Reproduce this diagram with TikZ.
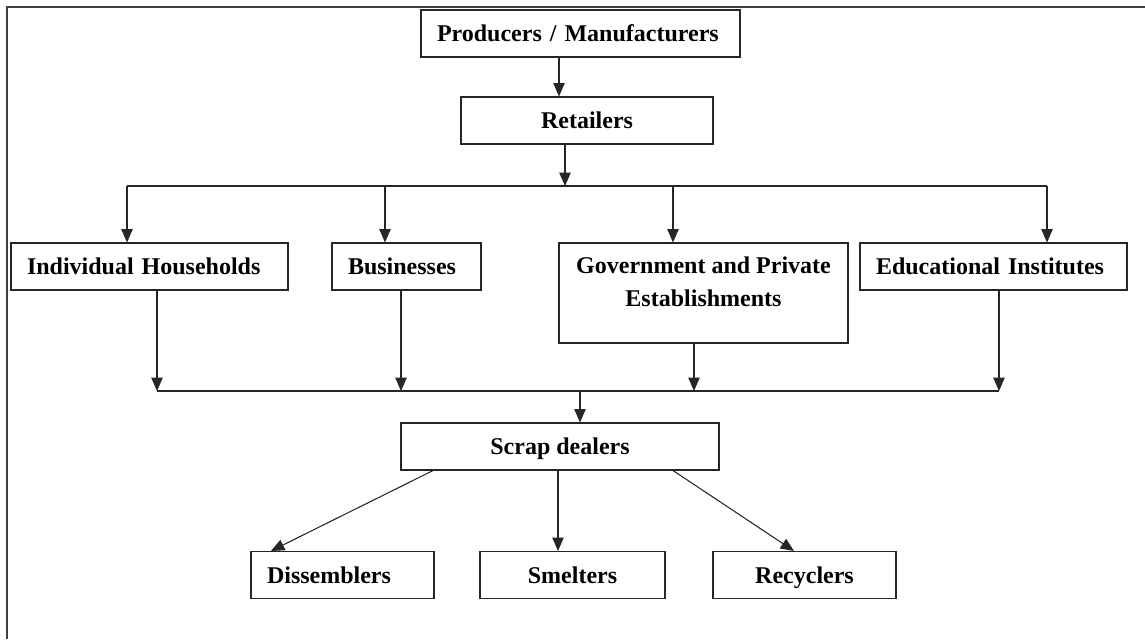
\documentclass[tikz,border=0pt]{standalone}
\usepackage{fontspec}
\setmainfont{Liberation Serif}
\usetikzlibrary{arrows.meta}
\tikzset{
  box/.style={draw=black!85, line width=0.8pt, font=\fontsize{18}{24.75}\selectfont\bfseries,
    inner sep=0pt, minimum height=35.25pt, text height=12.3pt, text depth=0pt},
  lbox/.style={box, align=left, inner xsep=12pt},
  cbox/.style={box, align=center},
  arr/.style={line width=0.8pt, draw=black!85, -{Triangle[length=10pt,width=8.5pt]}},
  ln/.style={line width=0.8pt, draw=black!85},
  frame/.style={line width=0.9pt, draw=black!75}
}
\begin{document}
\begin{tikzpicture}[x=0.75pt, y=-0.75pt]
\useasboundingbox (0,0) rectangle (1145,639);
\draw[frame] (7,639) -- (7,7) -- (1145,7);

% nodes
\node[lbox, text width=215.25pt] (prod) at (580.5,33.5) {Producers / Manufacturers};
\node[cbox, minimum width=189pt] (ret) at (587,120.5) {Retailers};
\node[lbox, text width=183.75pt] (ind) at (149.5,266.5) {Individual Households};
\node[lbox, text width=87.75pt] (bus) at (406.5,266.5) {Businesses};
\node[draw=black!85, line width=0.8pt, minimum width=216.75pt, minimum height=75pt, inner sep=0pt] (gov) at (703.5,293) {};
\node[anchor=north, inner ysep=10.5pt, inner xsep=0pt, align=center, font=\fontsize{18}{24.75}\selectfont\bfseries] (govtxt) at (gov.north) {Government and Private\\Establishments};
\node[lbox, text width=176.25pt] (edu) at (993.5,266.5) {Educational Institutes};
\node[cbox, minimum width=238.5pt] (scrap) at (560,446.5) {Scrap dealers};
\node[lbox, text width=113.25pt] (dis) at (342.5,575) {Dissemblers};
\node[cbox, minimum width=138.75pt] (sme) at (572.5,575) {Smelters};
\node[cbox, minimum width=137.25pt] (rec) at (804.5,575) {Recyclers};

% helper coordinates
\coordinate (c559) at (559,0);
\coordinate (t127) at (127,186);
\coordinate (t385) at (385,186);
\coordinate (t565) at (565,186);
\coordinate (t673) at (673,186);
\coordinate (t1047) at (1047,186);
\coordinate (m157) at (157,391);
\coordinate (m401) at (401,391);
\coordinate (m580) at (580,391);
\coordinate (m694) at (694,391);
\coordinate (m999) at (999,391);
\coordinate (s433) at (433,0);
\coordinate (s271) at (271,0);
\coordinate (s558) at (558,0);
\coordinate (s673) at (673,0);
\coordinate (s794) at (794,0);

% connectors
\draw[arr] (prod.south -| c559) -- (ret.north -| c559);
\draw[arr] (ret.south -| t565) -- (t565);
\draw[ln] (t127) -- (t1047);
\draw[arr] (t127) -- (ind.north -| t127);
\draw[arr] (t385) -- (bus.north -| t385);
\draw[arr] (t673) -- (gov.north -| t673);
\draw[arr] (t1047) -- (edu.north -| t1047);

\draw[arr] (ind.south -| m157) -- (m157);
\draw[arr] (bus.south -| m401) -- (m401);
\draw[arr] (gov.south -| m694) -- (m694);
\draw[arr] (edu.south -| m999) -- (m999);
\draw[ln] (m157) -- (m999);
\draw[arr] (m580) -- (scrap.north -| m580);

\draw[arr] (scrap.south -| s433) -- (dis.north -| s271);
\draw[arr] (scrap.south -| s558) -- (sme.north -| s558);
\draw[arr] (scrap.south -| s673) -- (rec.north -| s794);
\end{tikzpicture}
\end{document}
